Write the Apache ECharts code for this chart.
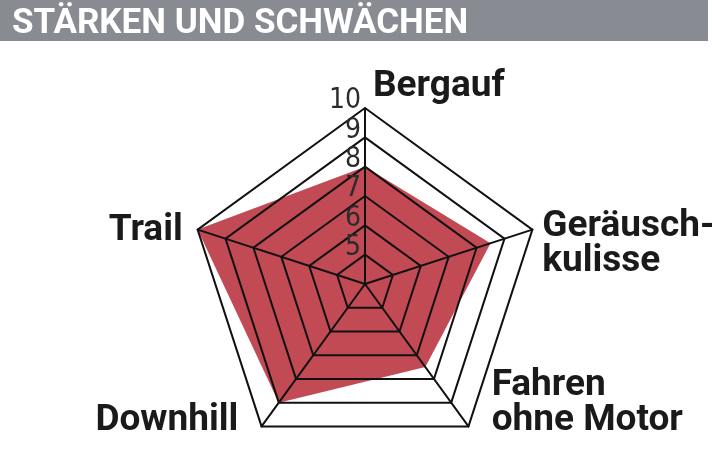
<!DOCTYPE html>
<html>
<head>
<meta charset="utf-8">
<script src="https://cdn.jsdelivr.net/npm/echarts@6/dist/echarts.min.js"></script>
<style>
html,body{margin:0;padding:0;background:#fff;}
#chart{width:712px;height:452px;}
</style>
</head>
<body>
<div id="chart"></div>
<script>
// Data (indicator order as ECharts lays them out, starting at top)
var titleText = 'STÄRKEN UND SCHWÄCHEN';
var categories = ['Bergauf', 'Trail', 'Downhill', 'Fahren\nohne Motor', 'Geräusch-\nkulisse'];
var values = [8, 10, 9, 7.5, 8.5];
var axisMin = 4;
var axisMax = 10;

var nameStyles = [
  {align: 'left', verticalAlign: 'bottom', padding: [0, 0, 2, 8]},
  {align: 'right', verticalAlign: 'middle', padding: [4, 13, 0, 0]},
  {align: 'right', verticalAlign: 'middle', padding: [0, 22, 14, 0]},
  {align: 'left', verticalAlign: 'middle', padding: [0, 0, 50, 22]},
  {align: 'left', verticalAlign: 'middle', padding: [30, 0, 0, 8]}
];

var indicators = categories.map(function (c, i) {
  var st = nameStyles[i];
  var ind = {
    name: c, min: axisMin, max: axisMax,
    nameTextStyle: {
      align: st.align, verticalAlign: st.verticalAlign, padding: st.padding,
      rich: {n: {}}
    }
  };
  if (i === 0) {
    ind.axisLabel = {
      show: true, showMinLabel: false, margin: 4,
      fontFamily: 'Liberation Sans Narrow, DejaVu Sans Condensed, sans-serif',
      fontSize: 28, color: '#2b2b2b', verticalAlign: 'bottom', lineHeight: 14
    };
  }
  return ind;
});

var chart = echarts.init(document.getElementById('chart'), null, {renderer: 'canvas'});
chart.setOption({
  animation: false,
  backgroundColor: '#ffffff',
  graphic: [{
    type: 'rect', left: 0, top: 0, z: 0,
    shape: {width: 708, height: 41},
    style: {fill: '#888b92'}
  }],
  title: {
    text: titleText, left: 12, top: 7, padding: [0, 0, 0, 0],
    textStyle: {color: '#ffffff', fontFamily: 'Roboto', fontWeight: 'bold', fontSize: 35}
  },
  radar: {
    z: 5,
    center: [365, 284],
    radius: 176,
    shape: 'polygon',
    splitNumber: 6,
    indicator: indicators,
    axisName: {
      color: '#1a1a1a', fontFamily: 'Roboto', fontWeight: 'bold', fontSize: 37, lineHeight: 35
    },
    nameGap: 2,
    axisLine: {lineStyle: {color: '#111', width: 2}},
    splitLine: {lineStyle: {color: '#111', width: 2}},
    splitArea: {show: false},
    axisTick: {show: false},
    axisLabel: {show: false}
  },
  series: [{
    type: 'radar',
    z: 2,
    symbol: 'none',
    lineStyle: {width: 0},
    areaStyle: {color: '#c24a55', opacity: 1},
    data: [{value: values, name: 'Wertung'}]
  }]
});
</script>
</body>
</html>
